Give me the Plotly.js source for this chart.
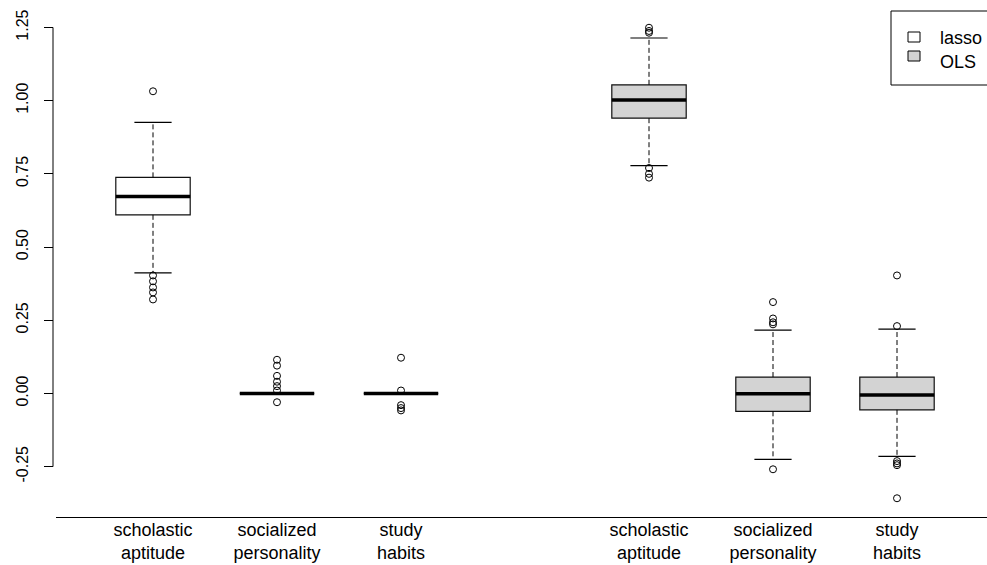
<!DOCTYPE html>
<html>
<head>
<meta charset="utf-8">
<script src="https://cdn.plot.ly/plotly-3.0.1.min.js"></script>
<style>html,body{margin:0;padding:0;background:#fff;} #chart{width:987px;height:565px;}</style>
</head>
<body>
<div id="chart"></div>
<script>
// ---- data ----
const positions = [1, 2, 3, 5, 6, 7];
const categories = ['scholastic<br>aptitude', 'socialized<br>personality', 'study<br>habits'];
const tickLabels = categories.concat(categories);
const yTicks = [-0.25, 0, 0.25, 0.5, 0.75, 1.0, 1.25];
const yTickText = ['-0.25', '0.00', '0.25', '0.50', '0.75', '1.00', '1.25'];

const lassoPos = [1, 2, 3];
const lassoQ1 = [0.610, 0, 0];
const lassoMedian = [0.673, 0, 0];
const lassoQ3 = [0.738, 0, 0];
const lassoLower = [0.412, 0, 0];
const lassoUpper = [0.926, 0, 0];
const lassoOutliers = [
  [1.032, 0.403, 0.383, 0.362, 0.345, 0.321],
  [0.115, 0.095, 0.06, 0.04, 0.025, 0.01, -0.03],
  [0.122, 0.01, -0.04, -0.05, -0.058]
];

const olsPos = [5, 6, 7];
const olsQ1 = [0.940, -0.061, -0.056];
const olsMedian = [1.002, -0.001, -0.005];
const olsQ3 = [1.054, 0.056, 0.056];
const olsLower = [0.778, -0.225, -0.215];
const olsUpper = [1.214, 0.216, 0.220];
const olsOutliers = [
  [1.249, 1.238, 1.232, 0.770, 0.750, 0.737],
  [0.312, 0.256, 0.243, 0.236, -0.259],
  [0.403, 0.230, -0.231, -0.239, -0.245, -0.358]
];

const seriesNames = ['lasso', 'OLS'];
const seriesFill = ['#ffffff', '#d3d3d3'];

// ---- geometry ----
const BOXW = 0.6, CAPW = 0.3;
const groups = [
  {pos: lassoPos, q1: lassoQ1, med: lassoMedian, q3: lassoQ3, lo: lassoLower, hi: lassoUpper, out: lassoOutliers, fill: seriesFill[0], name: seriesNames[0]},
  {pos: olsPos, q1: olsQ1, med: olsMedian, q3: olsQ3, lo: olsLower, hi: olsUpper, out: olsOutliers, fill: seriesFill[1], name: seriesNames[1]}
];

const traces = [];
groups.forEach(g => {
  traces.push({
    type: 'box', x: g.pos, q1: g.q1, median: g.med, q3: g.q3,
    lowerfence: g.q1, upperfence: g.q3, width: BOXW, whiskerwidth: 0,
    fillcolor: g.fill, line: {color: '#111', width: 1.2}, boxpoints: false,
    showlegend: false, hoverinfo: 'skip', name: g.name
  });
});
groups.forEach(g => {
  const wx = [], wy = [], cx = [], cy = [], mx = [], my = [], ox = [], oy = [];
  g.pos.forEach((p, i) => {
    wx.push(p, p, null, p, p, null);
    wy.push(g.q3[i], g.hi[i], null, g.q1[i], g.lo[i], null);
    cx.push(p - CAPW / 2, p + CAPW / 2, null, p - CAPW / 2, p + CAPW / 2, null);
    cy.push(g.hi[i], g.hi[i], null, g.lo[i], g.lo[i], null);
    mx.push(p - BOXW / 2, p + BOXW / 2, null);
    my.push(g.med[i], g.med[i], null);
    g.out[i].forEach(v => { ox.push(p); oy.push(v); });
  });
  traces.push({type: 'scatter', mode: 'lines', x: wx, y: wy, line: {color: '#000', width: 1, dash: '5px,3px'}, showlegend: false, hoverinfo: 'skip'});
  traces.push({type: 'scatter', mode: 'lines', x: cx, y: cy, line: {color: '#000', width: 1.2}, showlegend: false, hoverinfo: 'skip'});
  traces.push({type: 'scatter', mode: 'lines', x: mx, y: my, line: {color: '#000', width: 3.5}, showlegend: false, hoverinfo: 'skip'});
  traces.push({type: 'scatter', mode: 'markers', x: ox, y: oy, marker: {symbol: 'circle-open', size: 7, color: '#000', line: {width: 1, color: '#000'}}, showlegend: false, hoverinfo: 'skip'});
});

// ---- layout (pixel helpers) ----
const W = 987, H = 565, ML = 53, MR = 0, MT = 9, MB = 48;
const PW = W - ML - MR, PH = H - MT - MB;
const px = x => (x - ML) / PW;
const py = y => (H - MB - y) / PH;

const shapes = [
  // y axis line from -0.25 to 1.25
  {type: 'line', xref: 'paper', yref: 'y', x0: 0, x1: 0, y0: yTicks[0], y1: yTicks[yTicks.length - 1], line: {color: '#000', width: 1}},
  // legend frame
  {type: 'rect', xref: 'paper', yref: 'paper', x0: px(891), x1: px(1010), y0: py(85), y1: py(11), line: {color: '#000', width: 1}, fillcolor: '#fff'},
  {type: 'rect', xref: 'paper', yref: 'paper', x0: px(908), x1: px(920), y0: py(42), y1: py(32), line: {color: '#000', width: 1}, fillcolor: seriesFill[0]},
  {type: 'rect', xref: 'paper', yref: 'paper', x0: px(908), x1: px(920), y0: py(61), y1: py(51), line: {color: '#000', width: 1}, fillcolor: seriesFill[1]}
];
const annotations = [
  {xref: 'paper', yref: 'paper', x: px(938), y: py(38), xanchor: 'left', yanchor: 'middle', text: seriesNames[0], showarrow: false, font: {size: 18, color: '#000'}},
  {xref: 'paper', yref: 'paper', x: px(938), y: py(62), xanchor: 'left', yanchor: 'middle', text: seriesNames[1], showarrow: false, font: {size: 18, color: '#000'}}
];

const layout = {
  width: W, height: H,
  margin: {l: ML, r: MR, t: MT, b: MB, pad: 0},
  paper_bgcolor: '#fff', plot_bgcolor: '#fff',
  font: {family: 'Liberation Sans, Arial, sans-serif', color: '#000'},
  boxmode: 'overlay',
  showlegend: false,
  xaxis: {
    range: [1 - (153 - 56) / 124, 1 + (987 - 153) / 124],
    domain: [3 / PW, 1],
    tickmode: 'array', tickvals: positions, ticktext: tickLabels,
    ticks: '', showgrid: false, zeroline: false,
    showline: true, linecolor: '#000', linewidth: 1,
    ticklabelstandoff: -4,
    tickfont: {size: 18, color: '#000'}
  },
  yaxis: {
    range: [-0.422, 1.313],
    anchor: 'free', position: 0,
    tickmode: 'array', tickvals: yTicks, ticktext: yTickText,
    ticks: 'outside', ticklen: 9, tickcolor: '#000', tickwidth: 1,
    tickangle: -90, ticklabelstandoff: 10,
    showgrid: false, zeroline: false, showline: false,
    tickfont: {size: 16, color: '#000'}
  },
  shapes: shapes,
  annotations: annotations
};

Plotly.newPlot('chart', traces, layout, {displayModeBar: false, staticPlot: true});
</script>
</body>
</html>
